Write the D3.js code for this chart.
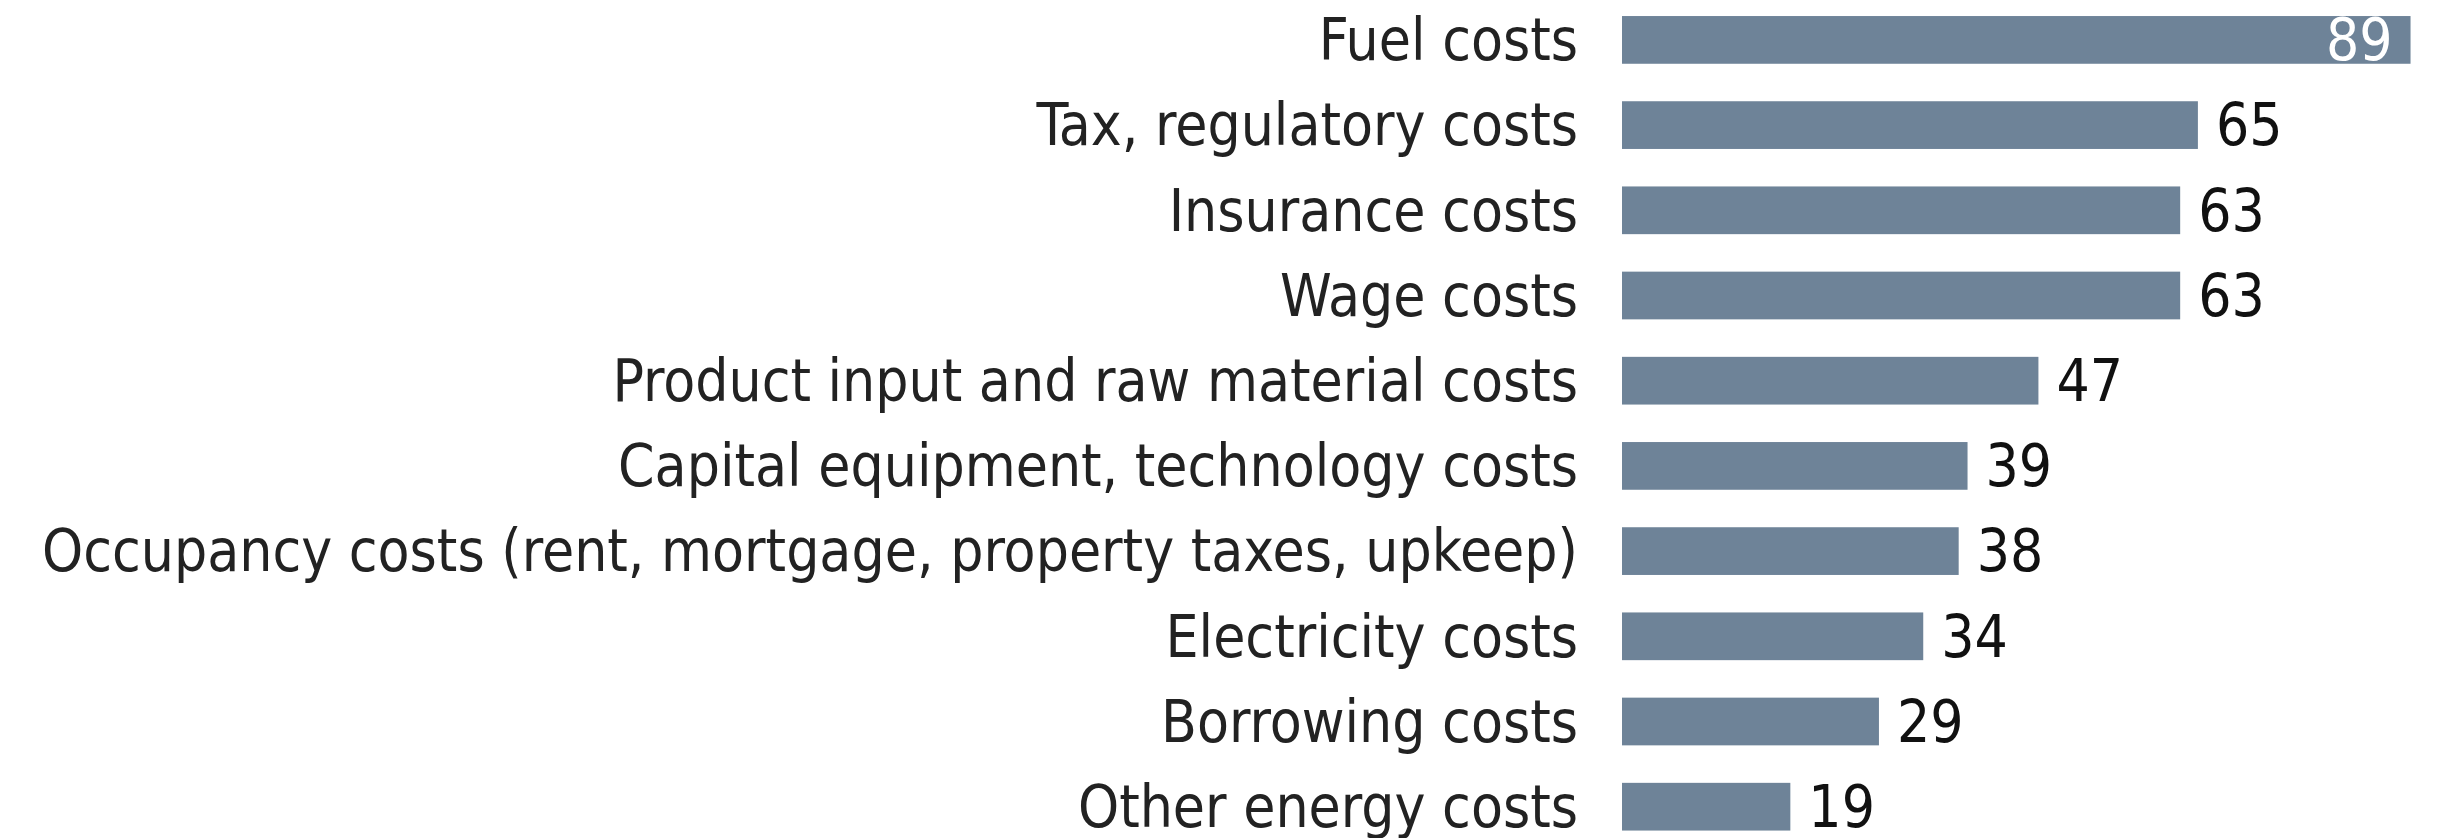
<!DOCTYPE html>
<html>
<head>
<meta charset="utf-8">
<script src="https://cdn.jsdelivr.net/npm/d3@7"></script>
<style>
  html, body { margin: 0; padding: 0; background: #fff; }
  svg { display: block; }
</style>
</head>
<body>
<svg id="chart" width="2443" height="838"></svg>
<script>
const categories = [
  "Fuel costs",
  "Tax, regulatory costs",
  "Insurance costs",
  "Wage costs",
  "Product input and raw material costs",
  "Capital equipment, technology costs",
  "Occupancy costs (rent, mortgage, property taxes, upkeep)",
  "Electricity costs",
  "Borrowing costs",
  "Other energy costs"
];
const values = [89, 65, 63, 63, 47, 39, 38, 34, 29, 19];

const W = 2443, H = 838;
const barLeft = 1622;
const fontFamily = "'DejaVu Sans Condensed', 'DejaVu Sans', sans-serif";
const fontSize = 58.2;

const svg = d3.select("#chart");

const y = d3.scaleBand()
  .domain(categories)
  .range([-2.7, 849.3])
  .paddingInner(0.44)
  .paddingOuter(0.22);

const x = d3.scaleLinear()
  .domain([0, 89])
  .range([barLeft, barLeft + 8.86 * 89]);

const data = categories.map((c, i) => ({ c, v: values[i] }));

svg.append("g").selectAll("rect")
  .data(data)
  .join("rect")
  .attr("x", x(0))
  .attr("y", d => y(d.c))
  .attr("width", d => x(d.v) - x(0))
  .attr("height", y.bandwidth())
  .attr("fill", "#6e8398");

const yAxis = d3.axisLeft(y).tickSize(0).tickPadding(44);
const ga = svg.append("g")
  .attr("transform", `translate(${x(0)},0)`)
  .call(yAxis);
ga.select(".domain").remove();
ga.selectAll("text")
  .attr("font-family", fontFamily)
  .attr("font-size", fontSize)
  .attr("fill", "#222")
  .attr("dy", "0.35em");

const maxV = d3.max(values);
svg.append("g").selectAll("text")
  .data(data)
  .join("text")
  .attr("x", d => d.v === maxV ? x(d.v) - 18 : x(d.v) + 18)
  .attr("y", d => y(d.c) + y.bandwidth() / 2)
  .attr("dy", "0.35em")
  .attr("text-anchor", d => d.v === maxV ? "end" : "start")
  .attr("font-family", fontFamily)
  .attr("font-size", fontSize)
  .attr("fill", d => d.v === maxV ? "#fff" : "#111")
  .text(d => d.v);
</script>
</body>
</html>
